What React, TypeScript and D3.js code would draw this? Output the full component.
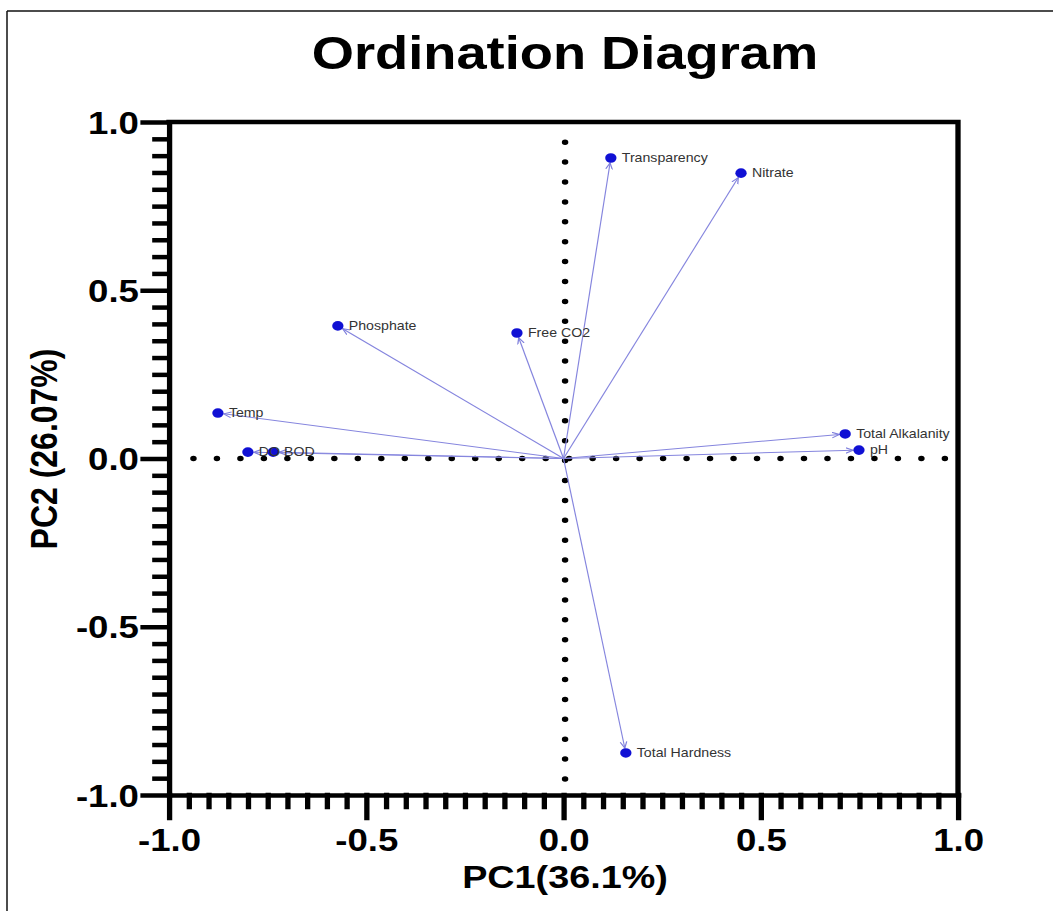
import React, { useEffect, useRef } from "react";
import * as d3 from "d3";

// PCA loadings
const variables = [
  "Transparency",
  "Nitrate",
  "Phosphate",
  "Free CO2",
  "Temp",
  "DO",
  "BOD",
  "Total Alkalanity",
  "pH",
  "Total Hardness",
];
const pc1 = [0.12, 0.45, -0.572, -0.118, -0.876, -0.8, -0.736, 0.714, 0.749, 0.158];
const pc2 = [0.893, 0.848, 0.394, 0.373, 0.135, 0.019, 0.019, 0.073, 0.025, -0.875];

const majorTicks = [-1, -0.5, 0, 0.5, 1];
const title = "Ordination Diagram";
const xTitle = "PC1(36.1%)";
const yTitle = "PC2 (26.07%)";

const W = 1053;
const H = 911;
const SX = 1.18; // the original picture is stretched sideways
const FONT = "'Liberation Sans', Arial, sans-serif";

const App = () => {
  const ref = useRef<SVGSVGElement>(null);

  useEffect(() => {
    const svg = d3.select(ref.current);
    svg.selectAll("*").remove();

    // page border (left and top only)
    svg.append("line").attr("x1", 7).attr("y1", 11).attr("x2", 7).attr("y2", H)
      .attr("stroke", "#111").attr("stroke-width", 1.5);
    svg.append("line").attr("x1", 7).attr("y1", 11).attr("x2", W).attr("y2", 11)
      .attr("stroke", "#111").attr("stroke-width", 1.5);

    const g = svg.append("g").attr("transform", `scale(${SX},1)`);

    const x = d3.scaleLinear().domain([-1, 1]).range([169 / SX, 958 / SX]);
    const y = d3.scaleLinear().domain([-1, 1]).range([795, 122]);

    g.append("text")
      .attr("x", 565 / SX)
      .attr("y", 69)
      .attr("text-anchor", "middle")
      .style("font-family", FONT)
      .style("font-weight", "bold")
      .style("font-size", "46px")
      .text(title);

    const fmt = (d: number) => d.toFixed(1);
    const minor = x.ticks(40).filter((t) => !majorTicks.some((m) => Math.abs(m - t) < 1e-9));

    // minor ticks
    g.append("g")
      .attr("transform", `translate(${x(-1)},0)`)
      .call(d3.axisLeft(y).tickValues(minor).tickSize(12).tickSizeOuter(0).tickFormat(() => ""))
      .call((a) => a.select(".domain").remove());
    g.append("g")
      .attr("transform", `translate(0,${y(-1)})`)
      .call(d3.axisBottom(x).tickValues(minor).tickSize(12).tickSizeOuter(0).tickFormat(() => ""))
      .call((a) => a.select(".domain").remove());

    // major axes
    const yAxis = g.append("g")
      .attr("transform", `translate(${x(-1)},0)`)
      .call(d3.axisLeft(y).tickValues(majorTicks).tickSize(22).tickSizeOuter(0).tickPadding(3.5).tickFormat((d) => fmt(+d)));
    g.append("g")
      .attr("transform", `translate(0,${y(-1)})`)
      .call(d3.axisBottom(x).tickValues(majorTicks).tickSize(23).tickSizeOuter(0).tickPadding(11).tickFormat((d) => fmt(+d)));

    // frame top/right
    g.append("path")
      .attr("d", `M${x(-1)},${y(1)}H${x(1)}V${y(-1)}`)
      .attr("fill", "none")
      .attr("stroke", "#000");

    g.selectAll(".tick line, .domain, path")
      .attr("stroke", "#000")
      .attr("stroke-width", 4.5)
      .attr("stroke-linecap", "square");
    g.selectAll(".tick text")
      .attr("fill", "#000")
      .style("font-family", FONT)
      .style("font-weight", "bold")
      .style("font-size", "31px");
    yAxis.selectAll(".tick text").attr("dy", "0.36em");

    // axis titles
    g.append("text")
      .attr("x", 565 / SX)
      .attr("y", 888)
      .attr("text-anchor", "middle")
      .style("font-family", FONT)
      .style("font-weight", "bold")
      .style("font-size", "32px")
      .text(xTitle);
    g.append("text")
      .attr("transform", `translate(${57 / SX},449) rotate(-90)`)
      .attr("text-anchor", "middle")
      .style("font-family", FONT)
      .style("font-weight", "bold")
      .style("font-size", "32px")
      .text(yTitle);

    // dotted zero lines
    g.append("line")
      .attr("x1", x(-0.938)).attr("x2", x(0.97))
      .attr("y1", y(0)).attr("y2", y(0))
      .attr("stroke", "#000").attr("stroke-width", 5.5)
      .attr("stroke-linecap", "round")
      .attr("stroke-dasharray", "0,19.9");
    g.append("line")
      .attr("x1", x(0.004)).attr("x2", x(0.004))
      .attr("y1", y(0.94)).attr("y2", y(-0.965))
      .attr("stroke", "#000").attr("stroke-width", 5.5)
      .attr("stroke-linecap", "round")
      .attr("stroke-dasharray", "0,19.9");

    // arrows
    const defs = svg.append("defs");
    defs.append("marker")
      .attr("id", "arr")
      .attr("viewBox", "0 0 10 10")
      .attr("refX", 9)
      .attr("refY", 5)
      .attr("markerWidth", 7)
      .attr("markerHeight", 7)
      .attr("orient", "auto")
      .append("path")
      .attr("d", "M0,1L9,5L0,9")
      .attr("fill", "none")
      .attr("stroke", "#7f7fdc")
      .attr("stroke-width", 1.5);

    const data = variables.map((name, i) => ({ name, v1: pc1[i], v2: pc2[i] }));
    const end = (d: { v1: number; v2: number }) => {
      const dx = x(d.v1) - x(0), dy = y(d.v2) - y(0);
      const len = Math.hypot(dx, dy);
      return [x(d.v1) - (dx / len) * 5, y(d.v2) - (dy / len) * 5];
    };

    g.append("g")
      .selectAll("line")
      .data(data)
      .join("line")
      .attr("x1", x(0))
      .attr("y1", y(0))
      .attr("x2", (d) => end(d)[0])
      .attr("y2", (d) => end(d)[1])
      .attr("stroke", "#8585de")
      .attr("stroke-width", 1)
      .attr("marker-end", "url(#arr)");

    g.append("g")
      .selectAll("circle")
      .data(data)
      .join("circle")
      .attr("cx", (d) => x(d.v1))
      .attr("cy", (d) => y(d.v2))
      .attr("r", 4.8)
      .attr("fill", "#1010d4");

    g.append("g")
      .selectAll("text")
      .data(data)
      .join("text")
      .attr("x", (d) => x(d.v1) + 9.3)
      .attr("y", (d) => y(d.v2))
      .attr("dy", "0.35em")
      .attr("fill", "#333")
      .style("font-family", FONT)
      .style("font-size", "12px")
      .text((d) => d.name);
  }, []);

  return (
    <svg
      ref={ref}
      width={W}
      height={H}
      style={{ position: "absolute", left: 0, top: 0, background: "#fff" }}
    />
  );
};

export default App;
